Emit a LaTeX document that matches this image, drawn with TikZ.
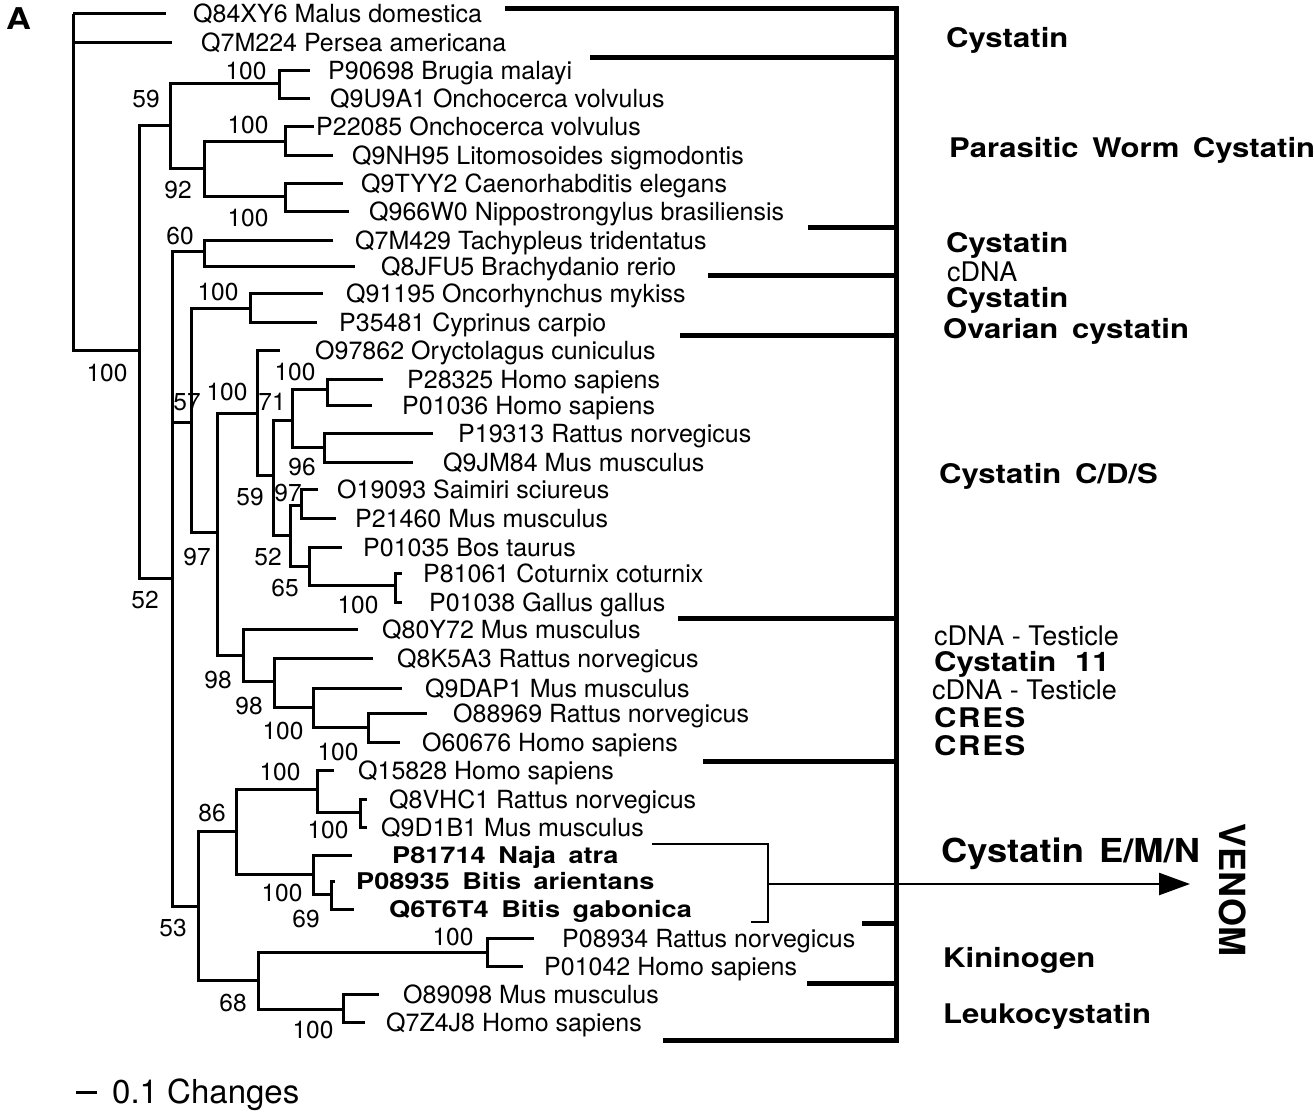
\documentclass[tikz,border=0pt]{standalone}
\usepackage{fontspec}
\setmainfont{TeX Gyre Heros}
\newfontfamily\wfont{TeX Gyre Heros}[FakeStretch=1.15]
\newfontfamily\wfontc{TeX Gyre Heros}[FakeStretch=1.15,LetterSpace=6]
\newfontfamily\wfontl{TeX Gyre Heros}[FakeStretch=1.18]
\newfontfamily\wfontm{TeX Gyre Heros}[FakeStretch=1.1]
\usetikzlibrary{arrows.meta}
\newcommand\tleaf[5]{\coordinate (#1) at (#2,#3); \node[leaflab] (#1t) at (#4,#3+9) {#5};}
\newcommand\bleaf[5]{\coordinate (#1) at (#2,#3); \node[boldleaf] (#1t) at (#4,#3+8.3) {#5};}
\newcommand\kids[2]{\foreach \kid in {#2}{\draw[br] (#1) |- (\kid);}}
\newcommand\bsv[4]{\node[num] (#1) at (#2,#3) {#4};}
\newcommand\wg{\hspace{5pt}}
\begin{document}
\begin{tikzpicture}[x=1pt,y=-1pt,
  br/.style={line width=3pt},
  brk/.style={line width=5pt},
  vb/.style={line width=2.4pt},
  leaflab/.style={anchor=base west, inner sep=0pt, font=\fontsize{25}{30}\selectfont},
  boldleaf/.style={anchor=base west, inner sep=0pt, font=\fontsize{23}{28}\selectfont\wfontl\bfseries},
  num/.style={inner sep=0pt, font=\fontsize{24.5}{28}\selectfont},
  grp/.style={anchor=base west, inner sep=0pt, font=\fontsize{27}{32}\selectfont\wfont\bfseries},
  grpw/.style={anchor=base west, inner sep=0pt, font=\fontsize{27}{32}\selectfont\wfontc\bfseries},
  grpreg/.style={anchor=base west, inner sep=0pt, font=\fontsize{27}{32}\selectfont}]
\fill[white] (0,0) rectangle (1314,1116);
\useasboundingbox (0,0) rectangle (1314,1116);

% leaves
\tleaf{Q84XY6}{166}{14}{193}{Q84XY6 Malus domestica}
\tleaf{Q7M224}{172}{43}{201}{Q7M224 Persea americana}
\tleaf{P90698}{310}{71}{328}{P90698 Brugia malayi}
\tleaf{Q9U9A1}{310}{98}{330}{Q9U9A1 Onchocerca volvulus}
\tleaf{P22085}{314}{126}{316}{P22085 Onchocerca volvulus}
\tleaf{Q9NH95}{333}{155}{352}{Q9NH95 Litomosoides sigmodontis}
\tleaf{Q9TYY2}{343}{183}{361}{Q9TYY2 Caenorhabditis elegans}
\tleaf{Q966W0}{349}{211}{369}{Q966W0 Nippostrongylus brasiliensis}
\tleaf{Q7M429}{333}{240}{355}{Q7M429 Tachypleus tridentatus}
\tleaf{Q8JFU5}{355}{266}{381}{Q8JFU5 Brachydanio rerio}
\tleaf{Q91195}{323}{293}{346}{Q91195 Oncorhynchus mykiss}
\tleaf{P35481}{317}{322}{339}{P35481 Cyprinus carpio}
\tleaf{O97862}{280}{350}{315}{O97862 Oryctolagus cuniculus}
\tleaf{P28325}{383}{379}{407}{P28325 Homo sapiens}
\tleaf{P01036}{372}{405}{402}{P01036 Homo sapiens}
\tleaf{P19313}{433}{433}{458}{P19313 Rattus norvegicus}
\tleaf{Q9JM84}{413}{462}{443}{Q9JM84 Mus musculus}
\tleaf{O19093}{318}{489}{337}{O19093 Saimiri sciureus}
\tleaf{P21460}{336}{518}{355}{P21460 Mus musculus}
\tleaf{P01035}{342}{547}{363}{P01035 Bos taurus}
\tleaf{P81061}{402}{573}{423}{P81061 Coturnix coturnix}
\tleaf{P01038}{402}{602}{429}{P01038 Gallus gallus}
\tleaf{Q80Y72}{358}{629}{382}{Q80Y72 Mus musculus}
\tleaf{Q8K5A3}{373}{658}{397}{Q8K5A3 Rattus norvegicus}
\tleaf{Q9DAP1}{402}{688}{425}{Q9DAP1 Mus musculus}
\tleaf{O88969}{427}{713}{453}{O88969 Rattus norvegicus}
\tleaf{O60676}{400}{742}{422}{O60676 Homo sapiens}
\tleaf{Q15828}{334}{770}{358}{Q15828 Homo sapiens}
\tleaf{Q8VHC1}{367}{799}{389}{Q8VHC1 Rattus norvegicus}
\tleaf{Q9D1B1}{367}{827}{381}{Q9D1B1 Mus musculus}
\bleaf{P81714}{352}{855}{392}{P81714\wg{} Naja\wg{} atra}
\bleaf{P08935}{335}{881}{356}{P08935\wg{} Bitis\wg{} arientans}
\bleaf{Q6T6T4}{354}{909}{389}{Q6T6T4\wg{} Bitis\wg{} gabonica}
\tleaf{P08934}{534}{938}{562}{P08934 Rattus norvegicus}
\tleaf{P01042}{523}{966}{544}{P01042 Homo sapiens}
\tleaf{O89098}{379}{994}{403}{O89098 Mus musculus}
\tleaf{Q7Z4J8}{365}{1022}{386}{Q7Z4J8 Homo sapiens}

% internal nodes (x, attachment y)
\coordinate (R) at (73,14);
\coordinate (nA) at (139,350);
\coordinate (nB) at (170,125);
\coordinate (nD) at (279,83);
\coordinate (nE) at (204,168);
\coordinate (nF) at (285,141);
\coordinate (nG) at (285,196);
\coordinate (nC) at (172,578);
\coordinate (nH) at (204,251);
\coordinate (nI) at (191,422);
\coordinate (nK) at (250,308);
\coordinate (nL) at (217,532);
\coordinate (nM) at (257,413);
\coordinate (nO) at (273,475);
\coordinate (nP) at (292,420);
\coordinate (nS) at (327,389);
\coordinate (nT) at (324,447);
\coordinate (nQ) at (290,535);
\coordinate (nU) at (301,505);
\coordinate (nV) at (309,566);
\coordinate (nW) at (395,585);
\coordinate (nN) at (243,655);
\coordinate (nX) at (274,681);
\coordinate (nY) at (313,707);
\coordinate (nZ) at (368,727);
\coordinate (nJ) at (198,906);
\coordinate (nAA) at (236,831);
\coordinate (nAC) at (317,789);
\coordinate (nAE) at (360,812);
\coordinate (nAD) at (313,874);
\coordinate (nAF) at (331,894);
\coordinate (nAB) at (258,980);
\coordinate (nAG) at (487,952);
\coordinate (nAH) at (343,1009);

% branches
\kids{R}{Q84XY6,Q7M224,nA}
\kids{nA}{nB,nC}
\kids{nB}{nD,nE}
\kids{nD}{P90698,Q9U9A1}
\kids{nE}{nF,nG}
\kids{nF}{P22085,Q9NH95}
\kids{nG}{Q9TYY2,Q966W0}
\kids{nC}{nH,nI,nJ}
\kids{nH}{Q7M429,Q8JFU5}
\kids{nI}{nK,nL}
\kids{nK}{Q91195,P35481}
\kids{nL}{nM,nN}
\kids{nM}{O97862,nO}
\kids{nO}{nP,nQ}
\kids{nP}{nS,nT}
\kids{nS}{P28325,P01036}
\kids{nT}{P19313,Q9JM84}
\kids{nQ}{nU,nV}
\kids{nU}{O19093,P21460}
\kids{nV}{P01035,nW}
\kids{nW}{P81061,P01038}
\kids{nN}{Q80Y72,nX}
\kids{nX}{Q8K5A3,nY}
\kids{nY}{Q9DAP1,nZ}
\kids{nZ}{O88969,O60676}
\kids{nJ}{nAA,nAB}
\kids{nAA}{nAC,nAD}
\kids{nAC}{Q15828,nAE}
\kids{nAE}{Q8VHC1,Q9D1B1}
\kids{nAD}{P81714,nAF}
\kids{nAF}{P08935,Q6T6T4}
\kids{nAB}{nAG,nAH}
\kids{nAG}{P08934,P01042}
\kids{nAH}{O89098,Q7Z4J8}

% bootstrap values
\bsv{b1}{107}{373}{100}
\bsv{b2}{146}{99}{59}
\bsv{b3}{246}{71}{100}
\bsv{b4}{248}{125}{100}
\bsv{b5}{178}{190}{92}
\bsv{b6}{248}{218}{100}
\bsv{b7}{180}{236}{60}
\bsv{b8}{218}{292}{100}
\bsv{b9}{187}{402}{57}
\bsv{b10}{227}{392}{100}
\bsv{b11}{295}{372}{100}
\bsv{b12}{272}{402}{71}
\bsv{b13}{302}{467}{96}
\bsv{b14}{250}{497}{59}
\bsv{b15}{288}{493}{97}
\bsv{b16}{268}{557}{52}
\bsv{b17}{285}{588}{65}
\bsv{b18}{358}{605}{100}
\bsv{b19}{197}{557}{97}
\bsv{b20}{145}{600}{52}
\bsv{b21}{218}{680}{98}
\bsv{b22}{249}{706}{98}
\bsv{b23}{283}{731}{100}
\bsv{b24}{338}{752}{100}
\bsv{b25}{280}{772}{100}
\bsv{b26}{212}{813}{86}
\bsv{b27}{328}{830}{100}
\bsv{b28}{282}{893}{100}
\bsv{b29}{306}{919}{69}
\bsv{b30}{173}{928}{53}
\bsv{b31}{453}{937}{100}
\bsv{b32}{233}{1003}{68}
\bsv{b33}{313}{1030}{100}

% group brackets
\coordinate (k1) at (505,9);
\coordinate (k2) at (590,58);
\coordinate (k3) at (808,227);
\coordinate (k4) at (708,275);
\coordinate (k5) at (680,335);
\coordinate (k6) at (678,618);
\coordinate (k7) at (703,761);
\coordinate (k8) at (862,923);
\coordinate (k9) at (807,983);
\coordinate (k10) at (663,1040);
\coordinate (spb) at (896,1040);
\draw[brk] (k1) -| (spb) -- (k10);
\foreach \kk in {k2,k3,k4,k5,k6,k7,k8,k9}{\draw[brk] (\kk) -- (\kk -| spb);}

% venom bracket and arrow
\coordinate (v1) at (652,844);
\coordinate (v2) at (768,922);
\coordinate (v3) at (751,922);
\coordinate (va) at (768,884);
\coordinate (vt) at (1190,884);
\draw[vb] (v1) -| (v2) -- (v3);
\draw[vb, -{Triangle[length=31pt,width=22pt]}] (va) -- (vt);

% group labels
\node[grp] (g1) at (946,48) {Cystatin};
\node[grp] (g2) at (949,157) {Parasitic\wg{} Worm\wg{} Cystatin};
\node[grp] (g3) at (946,252) {Cystatin};
\node[grpreg] (g4) at (947,281) {cDNA};
\node[grp] (g5) at (946,307) {Cystatin};
\node[grp] (g6) at (943,338) {Ovarian\wg{} cystatin};
\node[grp] (g7) at (939,483) {Cystatin\wg{} C/D/S};
\node[grpreg] (g8) at (934,645) {cDNA - Testicle};
\node[grp] (g9) at (934,671) {Cystatin\wg\wg{} 11};
\node[grpreg] (g10) at (932,699) {cDNA - Testicle};
\node[grpw] (g11) at (934,727) {CRES};
\node[grpw] (g12) at (934,755) {CRES};
\node[anchor=base west, inner sep=0pt, font=\fontsize{33}{38}\selectfont\wfontm\bfseries] (g13) at (941,862) {Cystatin\wg{} E/M/N};
\node[grp] (g14) at (943,967) {Kininogen};
\node[grp] (g15) at (943,1023) {Leukocystatin};
\node[rotate=-90, inner sep=0pt, font=\fontsize{36}{40}\selectfont\bfseries] (venom) at (1233,890) {VENOM};

% panel letter and scale
\node[anchor=base west, inner sep=0pt, font=\fontsize{30}{34}\selectfont\wfont\bfseries] (pa) at (6,30) {A};
\coordinate (s1) at (76,1092);
\coordinate (s2) at (97,1092);
\draw[br] (s1) -- (s2);
\node[anchor=base west, inner sep=0pt, font=\fontsize{33}{38}\selectfont] (sc) at (112,1103) {0.1 Changes};
\end{tikzpicture}
\end{document}
